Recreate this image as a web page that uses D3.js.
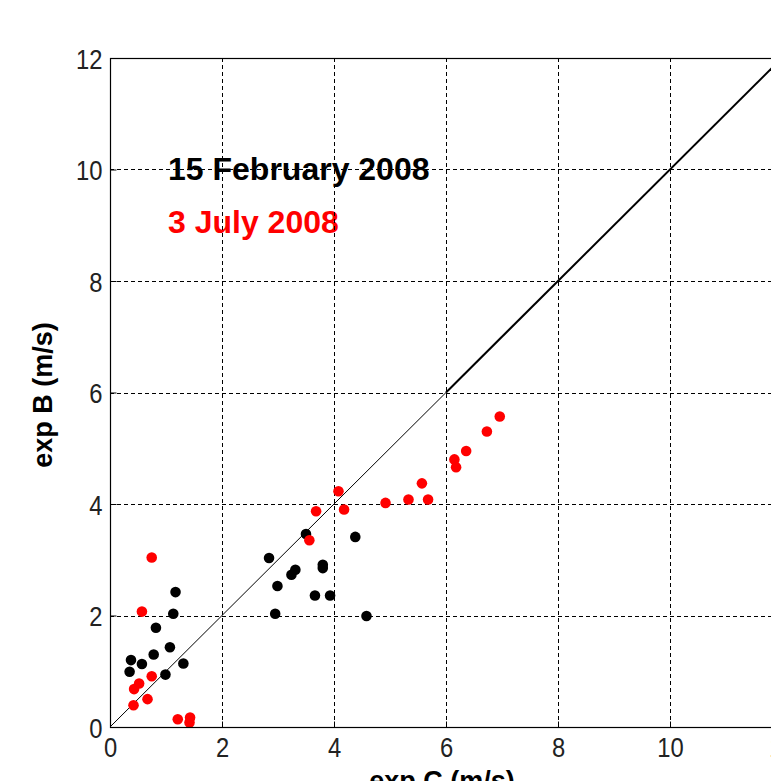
<!DOCTYPE html>
<html>
<head>
<meta charset="utf-8">
<script src="https://cdn.jsdelivr.net/npm/d3@7"></script>
<style>
	body { margin: 0; background: #fff; }
	svg { display: block; }
	.tick-label { font-family: "Liberation Sans", Arial, sans-serif; font-size: 28px; fill: #222; }
	.axis-title { font-family: "Liberation Sans", Arial, sans-serif; font-size: 27px; font-weight: bold; fill: #000; }
	.legend { font-family: "Liberation Sans", Arial, sans-serif; font-size: 32px; font-weight: bold; }
</style>
</head>
<body>
<div id="chart"></div>
<script>
// 15 February 2008 (black)
var febX = [0.35, 0.375, 0.57, 0.78, 0.82, 0.99, 1.07, 1.13, 1.17, 1.31, 2.84, 2.95, 2.99, 3.24, 3.31, 3.50, 3.66, 3.80, 3.80, 3.93, 4.38, 4.58]
var febY = [0.99, 1.20, 1.13, 1.30, 1.78, 0.94, 1.43, 2.03, 2.42, 1.14, 3.03, 2.03, 2.53, 2.73, 2.82, 3.46, 2.36, 2.85, 2.91, 2.36, 3.41, 1.99]

// 3 July 2008 (red)
var julX = [0.42, 0.43, 0.52, 0.57, 0.67, 0.745, 0.745, 1.21, 1.43, 1.42, 3.56, 3.68, 4.08, 4.18, 4.92, 5.33, 5.57, 5.68, 6.15, 6.18, 6.36, 6.73, 6.96]
var julY = [0.39, 0.68, 0.78, 2.07, 0.50, 0.91, 3.04, 0.14, 0.17, 0.08, 3.35, 3.87, 4.23, 3.90, 4.02, 4.08, 4.37, 4.08, 4.80, 4.66, 4.95, 5.30, 5.57]

var ticks = [0, 2, 4, 6, 8, 10, 12]
var legendLabels = ["15 February 2008", "3 July 2008"]
var oneToOneThin = [0, 6]
var oneToOneThick = [6, 12]

var W = 771, H = 781
var m = {left: 110, top: 58, right: 782, bottom: 727}

var svg = d3.select("#chart").append("svg")
	.attr("width", W)
	.attr("height", H)

var x = d3.scaleLinear().domain([0, 12]).range([m.left, m.right])
var y = d3.scaleLinear().domain([0, 12]).range([m.bottom, m.top])

// legend text (drawn below the grid, like the original)
svg.append("text").attr("class", "legend")
	.attr("x", 168).attr("y", 180)
	.attr("fill", "#000")
	.text(legendLabels[0])
svg.append("text").attr("class", "legend")
	.attr("x", 168).attr("y", 233)
	.attr("fill", "#ff0000")
	.text(legendLabels[1])

// grid
var inner = ticks.filter(t => t > 0 && t < 12)
svg.append("g").selectAll("line")
	.data(inner).enter().append("line")
	.attr("x1", d => Math.round(x(d)) + 0.5).attr("x2", d => Math.round(x(d)) + 0.5)
	.attr("y1", m.top).attr("y2", m.bottom)
	.attr("stroke", "#000").attr("stroke-dasharray", "4,3")
svg.append("g").selectAll("line")
	.data(inner).enter().append("line")
	.attr("y1", d => Math.round(y(d)) + 0.5).attr("y2", d => Math.round(y(d)) + 0.5)
	.attr("x1", m.left).attr("x2", m.right)
	.attr("stroke", "#000").attr("stroke-dasharray", "4,3")

// 1:1 line
var line = d3.line().x(d => x(d)).y(d => y(d))
svg.append("path").datum(oneToOneThin)
	.attr("d", line).attr("fill", "none").attr("stroke", "#000").attr("stroke-width", 1)
svg.append("path").datum(oneToOneThick)
	.attr("d", line).attr("fill", "none").attr("stroke", "#000").attr("stroke-width", 2)

// points
var sym = d3.symbol(d3.symbolCircle, 88)
function drawSeries(xs, ys, colour){
	svg.append("g").selectAll("path")
		.data(xs.map((v, i) => [v, ys[i]]))
		.enter().append("path")
		.attr("d", sym)
		.attr("transform", d => `translate(${x(d[0])},${y(d[1])})`)
		.attr("fill", colour)
}
drawSeries(febX, febY, "#000")
drawSeries(julX, julY, "#ff0000")

// frame
svg.append("rect")
	.attr("x", m.left + 0.5).attr("y", m.top + 0.5)
	.attr("width", m.right - m.left).attr("height", m.bottom - m.top)
	.attr("fill", "none").attr("stroke", "#000").attr("stroke-width", 1.2)

// axes
var xAxis = d3.axisBottom(x).tickValues(ticks).tickSize(-6).tickPadding(9)
var yAxis = d3.axisLeft(y).tickValues(ticks).tickSize(-6).tickPadding(8)

var gx = svg.append("g").attr("transform", `translate(0,${m.bottom + 0.5})`).call(xAxis)
var gy = svg.append("g").attr("transform", `translate(${m.left + 0.5},0)`).call(yAxis)
;[gx, gy].forEach(g => {
	g.select(".domain").remove()
	g.selectAll(".tick line").attr("stroke", "#000")
	g.selectAll(".tick text")
		.attr("class", "tick-label")
		.attr("font-size", null).attr("font-family", null)
		.attr("transform", "scale(0.85,1)")
})
gx.selectAll(".tick text").attr("y", 9).attr("dy", "0.72em")
gy.selectAll(".tick text").attr("dy", "0.36em").attr("x", -8 / 0.85)

// axis titles
svg.append("text").attr("class", "axis-title")
	.attr("text-anchor", "middle")
	.attr("x", 442).attr("y", 790)
	.text("exp C (m/s)")
svg.append("text").attr("class", "axis-title")
	.attr("text-anchor", "middle")
	.attr("transform", "translate(52,395) rotate(-90)")
	.text("exp B (m/s)")
</script>
</body>
</html>
